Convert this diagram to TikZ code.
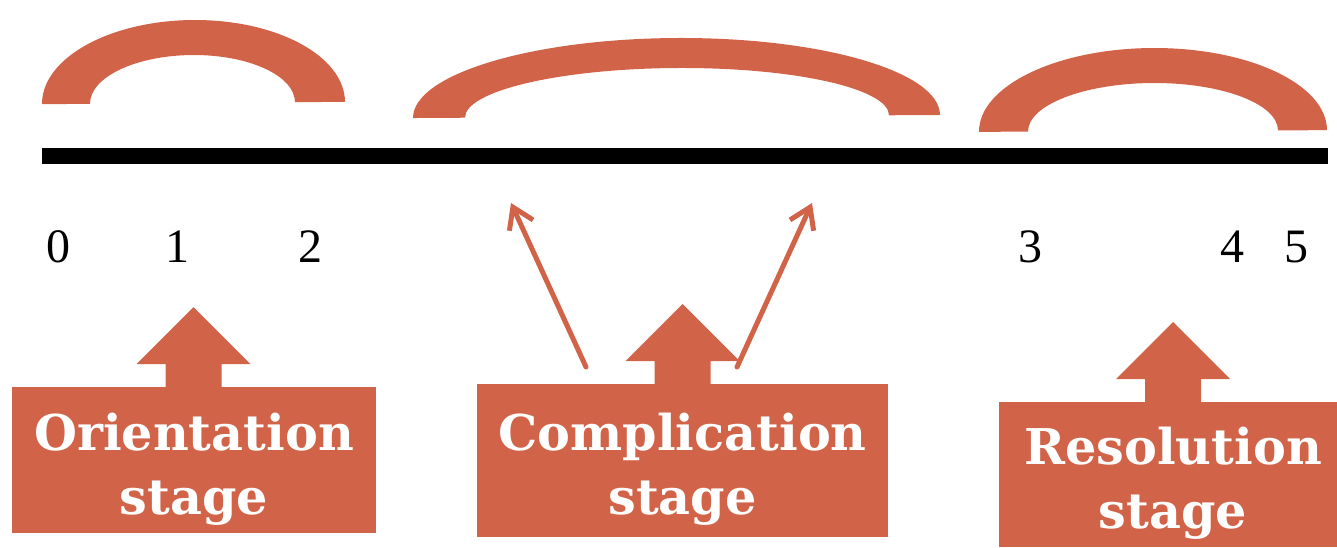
\documentclass[tikz,border=0pt]{standalone}
\usepackage{fontspec}
\setmainfont{Liberation Serif}
\newfontfamily\stagefont{DejaVu Serif}
\usetikzlibrary{arrows.meta}
\definecolor{accent}{RGB}{209,99,73}

% Block arrow standing on top of a stage box: #1 centre x, #2 top edge of the box
\newcommand{\stagearrow}[2]{%
  \fill[accent] (#1-28,#2) -- (#1-28,#2-23) -- (#1-57,#2-23) -- (#1,#2-80)
    -- (#1+57,#2-23) -- (#1+28,#2-23) -- (#1+28,#2) -- cycle;}

\begin{document}
\begin{tikzpicture}[x=1pt,y=-1pt,
  tick/.style={anchor=base, inner sep=0pt, font=\fontsize{48}{48}\selectfont},
  stagebox/.style={fill=accent, inner sep=0pt},
  stagetext/.style={inner sep=0pt, text=white, align=center,
    font=\stagefont\bfseries\fontsize{49.3}{64}\selectfont},
  pointer/.style={draw=accent, line width=5pt, line cap=round, line join=round,
    -{Straight Barb[length=20pt,width=26pt]}},
  band/.style={fill=accent}]
\useasboundingbox (0,0) rectangle (1337,547);

% time line
\coordinate (lineL) at (42,156);
\coordinate (lineR) at (1328,156);
\draw[line width=16pt] (lineL) -- (lineR);

% stage bands over the time line
\fill[band, rotate around={0.45:(193.5,103)}]
  (42,103) arc[start angle=180, end angle=360, x radius=151.5, y radius=83]
  -- (295,103) arc[start angle=0, end angle=-180, x radius=102.5, y radius=48] -- cycle;
\fill[band, rotate around={0.33:(676.5,116.5)}]
  (413,116.5) arc[start angle=180, end angle=360, x radius=263.5, y radius=78.5]
  -- (889,116.5) arc[start angle=0, end angle=-180, x radius=212, y radius=48.5] -- cycle;
\fill[band, rotate around={0.28:(1153,131)}]
  (979,131) arc[start angle=180, end angle=360, x radius=174, y radius=83]
  -- (1278,131) arc[start angle=0, end angle=-180, x radius=125, y radius=48] -- cycle;

% tick labels
\node[tick] (n0) at (58,262) {0};
\node[tick] (n1) at (177,262) {1};
\node[tick] (n2) at (310,262) {2};
\node[tick] (n3) at (1030,262) {3};
\node[tick] (n4) at (1232,262) {4};
\node[tick] (n5) at (1296,262) {5};

% stage boxes and their captions
\node[stagebox, minimum width=364, minimum height=146] (orient) at (194,460) {};
\node[stagebox, minimum width=411, minimum height=153] (compl) at (682.5,460.5) {};
\node[stagebox, minimum width=338, minimum height=145] (resol) at (1168,474.5) {};
\node[stagetext] (orientText) at (194,469) {Orientation\\stage};
\node[stagetext] (complText) at (682.5,469) {Complication\\stage};
\node[stagetext] (resolText) at (1173,483) {Resolution\\stage};

\stagearrow{193.5}{387}
\stagearrow{682.5}{384}
\stagearrow{1173}{402}

% pointers from the complication stage
\coordinate (pL0) at (586,367);
\coordinate (pL1) at (511,203);
\coordinate (pR0) at (737,367);
\coordinate (pR1) at (812,203);
\draw[pointer] (pL0) -- (pL1);
\draw[pointer] (pR0) -- (pR1);
\end{tikzpicture}
\end{document}
